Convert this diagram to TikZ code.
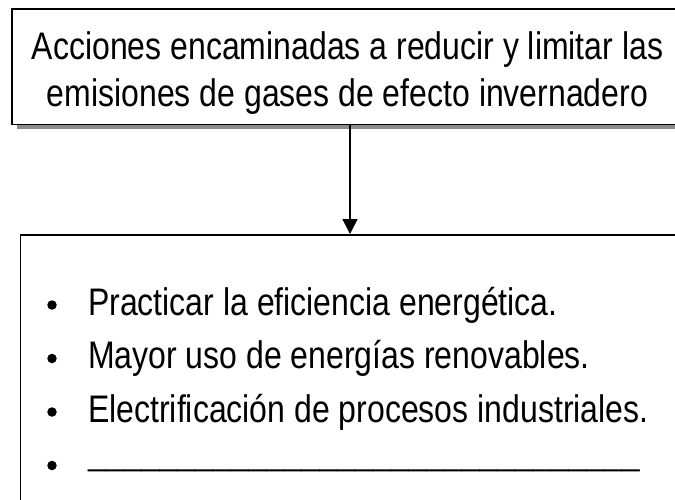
\documentclass[tikz,border=0pt]{standalone}
\usepackage{fontspec}
\setmainfont{Liberation Sans}
\usetikzlibrary{shadows,arrows.meta}
\newcommand{\tallify}[1]{\scalebox{1}[1.2]{#1}}
\begin{document}
\begin{tikzpicture}[x=1pt,y=-1pt,
  boxstyle/.style={draw=black,line width=1.6pt,fill=white,inner sep=0pt},
  shadowed/.style={general shadow={fill=gray!90,shadow xshift=5pt,shadow yshift=-5pt}},
  bigtext/.style={font=\fontsize{32}{38}\selectfont,anchor=base,inner sep=0pt},
  itemtext/.style={font=\fontsize{32}{38}\selectfont,anchor=base west,inner sep=0pt},
  bulletdot/.style={circle,fill=black,inner sep=0pt,minimum size=9.5pt},
  arrowline/.style={line width=1.6pt,-{Triangle[length=15pt,width=15pt]}}]
\useasboundingbox (0,0) rectangle (675,499);
\node[boxstyle,shadowed,anchor=north west,minimum width=672pt,minimum height=115.5pt] (top) at (11,8) {};
\node[bigtext] (l1) at (347.5,59) {\tallify{Acciones encaminadas a reducir y limitar las}};
\node[bigtext] (l2) at (347.5,106) {\tallify{emisiones de gases de efecto invernadero}};
\node[boxstyle,anchor=north west,minimum width=680pt,minimum height=300pt] (list) at (19.5,234) {};
\coordinate (ax) at (350,0);
\draw[arrowline] (top.south -| ax) -- (list.north -| ax);
\node[itemtext] (t1) at (88,315) {\tallify{Practicar la eficiencia energética.}};
\node[itemtext] (t2) at (88,368.5) {\tallify{Mayor uso de energías renovables.}};
\node[itemtext] (t3) at (88,422) {\tallify{Electrificación de procesos industriales.}};
\node[itemtext] (t4) at (88,465) {\_\_\_\_\_\_\_\_\_\_\_\_\_\_\_\_\_\_\_\_\_\_\_\_\_\_\_\_\_\_\_};
\node[bulletdot] (b1) at (52,305) {};
\node[bulletdot] (b2) at (52,358.5) {};
\node[bulletdot] (b3) at (52,412) {};
\node[bulletdot] (b4) at (52,465.5) {};
\end{tikzpicture}
\end{document}
